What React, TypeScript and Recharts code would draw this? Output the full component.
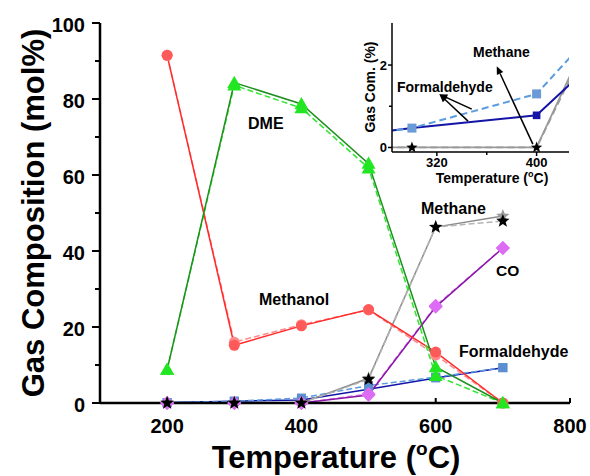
import React from 'react';
import { ComposedChart, Line, XAxis, YAxis, ReferenceLine } from 'recharts';

const temps = [200, 300, 400, 500, 600, 700];
const methanolSolid = [91.5, 15.2, 20.3, 24.6, 13.4, 0];
const methanolDash = [91.5, 16.0, 20.6, 24.5, 12.6, 0];
const dmeSolid = [8.8, 84.3, 78.7, 63.0, 9.5, 0];
const dmeDash = [8.8, 83.6, 77.6, 61.8, 7.2, 0];
const methaneSolid = [0, 0, 0, 6.5, 46.3, 49.2];
const methaneDash = [0, 0, 0, 6.2, 46.3, 47.9];
const coSolid = [0, 0, 0, 2.1, 25.3, 40.8];
const coDash = [0, 0, 0, 2.4, 25.6, 40.8];
const formSolid = [0.1, 0.47, 0.78, 3.6, 6.6, 9.3];
const formDash = [0.1, 0.47, 1.3, 4.6, 6.8, 9.3];

const xTicks = [200, 400, 600, 800];
const yTicks = [0, 10, 20, 30, 40, 50, 60, 70, 80, 90, 100];
const insetXTicks = [320, 360, 400];
const insetYTicks = [0, 1, 2];

// arrows in the inset, in data units: [tail, head]
const methaneArrow = [{ x: 397, y: 0.08 }, { x: 368, y: 1.97 }];
const formArrowA = [{ x: 348, y: 0.93 }, { x: 322, y: 1.29 }];
const formArrowB = [{ x: 345, y: 0.64 }, { x: 322, y: 1.29 }];

const data = temps.map((t, i) => ({
  t,
  methanolSolid: methanolSolid[i],
  methanolDash: methanolDash[i],
  dmeSolid: dmeSolid[i],
  dmeDash: dmeDash[i],
  methaneSolid: methaneSolid[i],
  methaneDash: methaneDash[i],
  coSolid: coSolid[i],
  coDash: coDash[i],
  formSolid: formSolid[i],
  formDash: formDash[i],
}));

const FONT = '"Liberation Sans", Arial, Helvetica, sans-serif';

function starPoints(cx: number, cy: number, ro: number, ri: number) {
  const pts: string[] = [];
  for (let k = 0; k < 10; k++) {
    const r = k % 2 === 0 ? ro : ri;
    const a = -Math.PI / 2 + (k * Math.PI) / 5;
    pts.push(`${cx + r * Math.cos(a)},${cy + r * Math.sin(a)}`);
  }
  return pts.join(' ');
}

function marker(shape: string, fill: string, size = 1) {
  return (p: any) => {
    const { cx, cy, index } = p;
    const key = `m-${shape}-${fill}-${index}`;
    if (cx == null || cy == null) return <g key={key} />;
    if (shape === 'circle') return <circle key={key} cx={cx} cy={cy} r={5.5 * size} fill={fill} />;
    if (shape === 'triangle') {
      const s = 7 * size;
      return <polygon key={key} points={`${cx},${cy - s} ${cx - s},${cy + s * 0.75} ${cx + s},${cy + s * 0.75}`} fill={fill} />;
    }
    if (shape === 'square') {
      const s = 4.5 * size;
      return <rect key={key} x={cx - s} y={cy - s} width={2 * s} height={2 * s} fill={fill} />;
    }
    if (shape === 'diamond') {
      const s = 7 * size;
      return <polygon key={key} points={`${cx},${cy - s} ${cx + s},${cy} ${cx},${cy + s} ${cx - s},${cy}`} fill={fill} />;
    }
    return <polygon key={key} points={starPoints(cx, cy, 7 * size, 3 * size)} fill={fill} />;
  };
}

function MainXTick(p: any) {
  const { x, y, payload } = p;
  return (
    <g>
      <line x1={x} x2={x} y1={y} y2={y - 5} stroke="#000" strokeWidth={2} />
      <text x={x} y={y + 30} textAnchor="middle" fontSize={20} fontWeight="bold" fontFamily={FONT} fill="#000">
        {payload.value}
      </text>
    </g>
  );
}

function MainYTick(p: any) {
  const { x, y, payload } = p;
  const major = payload.value % 20 === 0;
  return (
    <g>
      <line x1={x} x2={x - (major ? 8 : 5)} y1={y} y2={y} stroke="#000" strokeWidth={2} />
      {major && (
        <text x={x - 15} y={y + 9} textAnchor="end" fontSize={20} fontWeight="bold" fontFamily={FONT} fill="#000">
          {payload.value}
        </text>
      )}
    </g>
  );
}

function InsetXTick(p: any) {
  const { x, y, payload } = p;
  const major = payload.value !== 360;
  return (
    <g>
      <line x1={x} x2={x} y1={y} y2={y + (major ? 4 : 3)} stroke="#000" strokeWidth={1.5} />
      {major && (
        <text x={x} y={y + 15} textAnchor="middle" fontSize={13} fontWeight="bold" fontFamily={FONT} fill="#000">
          {payload.value}
        </text>
      )}
    </g>
  );
}

function InsetYTick(p: any) {
  const { x, y, payload } = p;
  const major = payload.value % 2 === 0;
  return (
    <g>
      <line x1={x} x2={x - (major ? 4 : 3)} y1={y} y2={y} stroke="#000" strokeWidth={1.5} />
      {major && (
        <text x={x - 5} y={y + 5} textAnchor="end" fontSize={13} fontWeight="bold" fontFamily={FONT} fill="#000">
          {payload.value}
        </text>
      )}
    </g>
  );
}

function Arrow(p: any) {
  const { x1, y1, x2, y2 } = p;
  const a = Math.atan2(y2 - y1, x2 - x1);
  const L = 8;
  const W = 3.5;
  const bx = x2 - L * Math.cos(a);
  const by = y2 - L * Math.sin(a);
  const nx = -Math.sin(a) * W;
  const ny = Math.cos(a) * W;
  return (
    <g>
      <line x1={x1} y1={y1} x2={bx} y2={by} stroke="#000" strokeWidth={1.5} />
      <polygon points={`${x2},${y2} ${bx + nx},${by + ny} ${bx - nx},${by - ny}`} fill="#000" />
    </g>
  );
}

export default function App() {
  return (
    <div style={{ position: 'absolute', left: 0, top: 0, width: 590, height: 476, background: '#fff' }}>
      <div style={{ position: 'absolute', left: 0, top: 0 }}>
        <ComposedChart width={590} height={476} data={data} margin={{ top: 23, right: 20, bottom: 33, left: 40 }}>
          <XAxis
            dataKey="t"
            type="number"
            domain={[100, 800]}
            ticks={xTicks}
            height={40}
            tickSize={0}
            tickMargin={0}
            tickLine={false}
            tick={<MainXTick />}
            axisLine={{ stroke: '#000', strokeWidth: 2.5 }}
          />
          <XAxis xAxisId="top" orientation="top" type="number" domain={[100, 800]} height={0} tick={false} tickLine={false} axisLine={{ stroke: '#000', strokeWidth: 2.5 }} />
          <YAxis
            type="number"
            domain={[0, 100]}
            ticks={yTicks}
            width={60}
            tickSize={0}
            tickMargin={0}
            tickLine={false}
            tick={<MainYTick />}
            axisLine={{ stroke: '#000', strokeWidth: 2.5 }}
          />
          <YAxis yAxisId="right" orientation="right" domain={[0, 100]} width={0} tick={false} tickLine={false} axisLine={{ stroke: '#000', strokeWidth: 2.5 }} />

          <Line dataKey="formSolid" stroke="#1414a8" strokeWidth={1.5} dot={marker('square', '#5b8fd0')} isAnimationActive={false} />
          <Line dataKey="formDash" stroke="#5b9be0" strokeWidth={1.5} strokeDasharray="6 3" dot={marker('square', '#5b8fd0')} isAnimationActive={false} />
          <Line dataKey="coDash" stroke="#e08af0" strokeWidth={1.5} strokeDasharray="6 3" dot={marker('diamond', '#dd6cf5')} isAnimationActive={false} />
          <Line dataKey="coSolid" stroke="#8a15a8" strokeWidth={1.5} dot={marker('diamond', '#dd6cf5')} isAnimationActive={false} />
          <Line dataKey="methaneSolid" stroke="#8c8c8c" strokeWidth={1.5} dot={marker('star', '#9a9a9a')} isAnimationActive={false} />
          <Line dataKey="methaneDash" stroke="#b4b4b4" strokeWidth={1.5} strokeDasharray="6 3" dot={marker('star', '#000')} isAnimationActive={false} />
          <Line dataKey="methanolDash" stroke="#ff8a8a" strokeWidth={1.5} strokeDasharray="6 3" dot={marker('circle', '#ff8a8a')} isAnimationActive={false} />
          <Line dataKey="methanolSolid" stroke="#ff2a2a" strokeWidth={1.5} dot={marker('circle', '#ff5a5a')} isAnimationActive={false} />
          <Line dataKey="dmeDash" stroke="#33e633" strokeWidth={1.5} strokeDasharray="6 3" dot={marker('triangle', '#22e622')} isAnimationActive={false} />
          <Line dataKey="dmeSolid" stroke="#1f8f1f" strokeWidth={1.5} dot={marker('triangle', '#22e622')} isAnimationActive={false} />
        </ComposedChart>
      </div>

      <div style={{ position: 'absolute', left: 340, top: 10 }}>
        <ComposedChart width={240} height={185} data={data} margin={{ top: 13, right: 11, bottom: 13, left: 22 }}>
          <XAxis
            dataKey="t"
            type="number"
            domain={[284, 426]}
            allowDataOverflow
            ticks={insetXTicks}
            height={30}
            tickSize={0}
            tickMargin={0}
            tickLine={false}
            tick={<InsetXTick />}
            axisLine={{ stroke: '#000', strokeWidth: 1.5 }}
          />
          <YAxis
            type="number"
            domain={[-0.11, 3.02]}
            allowDataOverflow
            ticks={insetYTicks}
            width={30}
            tickSize={0}
            tickMargin={0}
            tickLine={false}
            tick={<InsetYTick />}
            axisLine={{ stroke: '#000', strokeWidth: 1.5 }}
          />
          <Line dataKey="methaneSolid" stroke="#9a9a9a" strokeWidth={1.8} dot={false} isAnimationActive={false} />
          <Line dataKey="methaneDash" stroke="#9a9a9a" strokeWidth={1.8} strokeDasharray="7 4" dot={marker('star', '#000', 0.85)} isAnimationActive={false} />
          <Line dataKey="formSolid" stroke="#1414a8" strokeWidth={2} dot={marker('square', '#1414a8', 0.85)} isAnimationActive={false} />
          <Line dataKey="formDash" stroke="#5b9be0" strokeWidth={2} strokeDasharray="7 4" dot={marker('square', '#6b9bd6', 1)} isAnimationActive={false} />
          <ReferenceLine segment={methaneArrow} shape={<Arrow />} />
          <ReferenceLine segment={formArrowA} shape={<Arrow />} />
          <ReferenceLine segment={formArrowB} shape={<Arrow />} />
        </ComposedChart>
      </div>

      <svg width={590} height={476} style={{ position: 'absolute', left: 0, top: 0, pointerEvents: 'none' }} fontFamily={FONT} fontWeight="bold">
        <text x={44} y={213} transform="rotate(-90 44 213)" textAnchor="middle" fontSize={31}>
          Gas Composition (mol%)
        </text>
        <text x={336} y={468} textAnchor="middle" fontSize={31}>
          Temperature (<tspan fontSize={19} dy={-13}>o</tspan>
          <tspan dy={13}>C)</tspan>
        </text>
        <text x={248} y={129} fontSize={16}>DME</text>
        <text x={259} y={305} fontSize={16}>Methanol</text>
        <text x={421} y={214} fontSize={16}>Methane</text>
        <text x={496} y={276} fontSize={15.5}>CO</text>
        <text x={459} y={357} fontSize={16}>Formaldehyde</text>
        <text x={473} y={57} fontSize={14}>Methane</text>
        <text x={397} y={92} fontSize={14}>Formaldehyde</text>
        <text x={375} y={87} transform="rotate(-90 375 87)" textAnchor="middle" fontSize={14}>
          Gas Com. (%)
        </text>
        <text x={492} y={183} textAnchor="middle" fontSize={14}>
          Temperature (<tspan fontSize={9} dy={-6}>o</tspan>
          <tspan dy={6}>C)</tspan>
        </text>
      </svg>
    </div>
  );
}
